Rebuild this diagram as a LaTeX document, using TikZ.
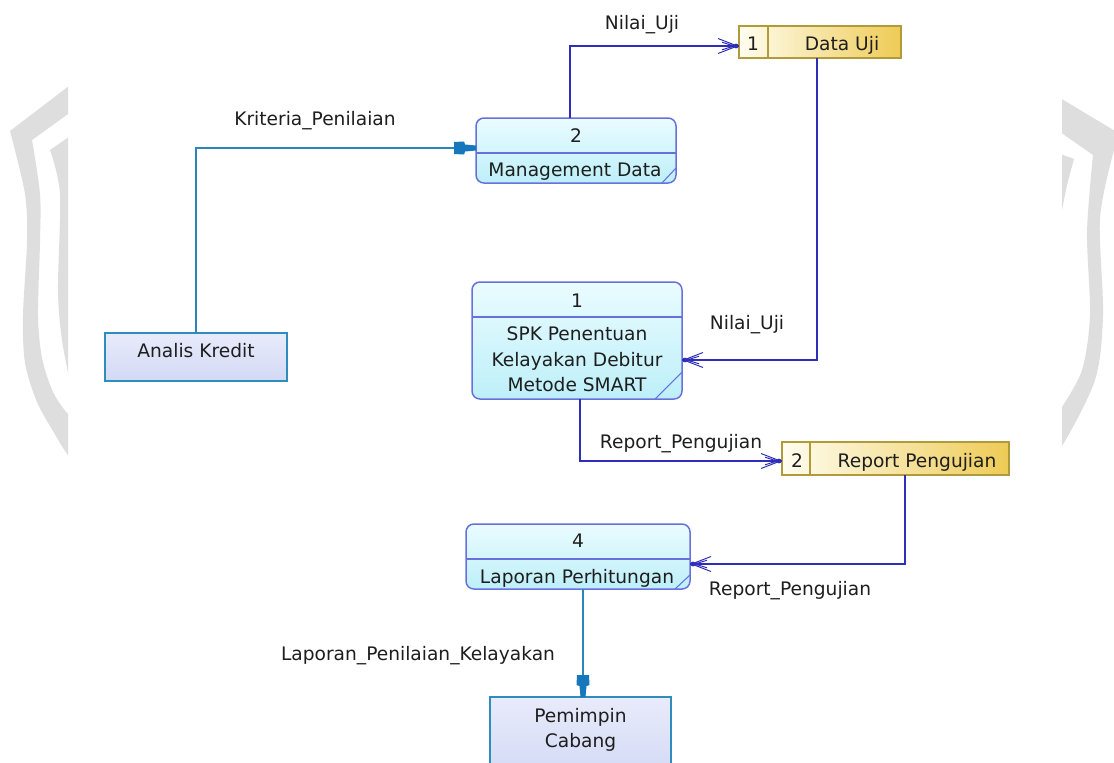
\documentclass[tikz,border=0pt]{standalone}
\usepackage{fontspec}
\setmainfont{DejaVu Sans}
\usetikzlibrary{calc}

\definecolor{flowblue}{HTML}{2E2EB8}
\definecolor{entline}{HTML}{2B86BB}
\definecolor{enttip}{HTML}{1677BD}
\definecolor{procborder}{HTML}{6870DC}
\definecolor{proctop}{HTML}{EAFCFF}
\definecolor{procbot}{HTML}{BDEFF9}
\definecolor{storeborder}{HTML}{B09A3A}
\definecolor{storeL}{HTML}{FFFDF0}
\definecolor{storeR}{HTML}{EECB55}
\definecolor{entborder}{HTML}{2F8CBC}
\definecolor{enttop}{HTML}{E8EBFB}
\definecolor{entbot}{HTML}{D2D9F4}
\definecolor{wmgray}{HTML}{DEDEDE}
\definecolor{txt}{HTML}{1E1E1E}

\newcommand\pxu{0.02cm}

\tikzset{
  procbox/.style={draw=procborder, line width=0.85pt, rounded corners=4.5pt,
    top color=proctop, bottom color=procbot, outer sep=0pt, inner sep=0pt},
  storebox/.style={draw=storeborder, line width=0.9pt,
    left color=storeL, right color=storeR, outer sep=0pt, inner sep=0pt},
  entbox/.style={draw=entborder, line width=1.1pt,
    top color=enttop, bottom color=entbot, outer sep=0pt, inner sep=0pt},
  txtnode/.style={text=txt, inner sep=0pt, anchor=base},
  dataflow/.style={draw=flowblue, line width=1.1pt},
  entflow/.style={draw=entline, line width=1.1pt},
  flowhead/.pic={
    \fill[flowblue] (-3,0) circle (2.4);
    \draw[flowblue, line width=0.55pt] (-5,-1.3) -- (-21,-7.5) (-5,1.3) -- (-21,7.5)
      (-7,-0.6) -- (-17,-3.8) (-7,0.6) -- (-17,3.8);
  },
  entityhead/.pic={
    \fill[enttip] (0,-2.5) -- (-11,-3.5) -- (-12,-6.5) -- (-22,-6) -- (-22,6)
      -- (-12,6.5) -- (-11,3.5) -- (0,2.5) -- cycle;
  }
}

\begin{document}
\begin{tikzpicture}[x=0.02cm, y=-0.02cm, font=\fontsize{10.6}{12.8}\selectfont]
\useasboundingbox (0,0) rectangle (1114,762);
\clip (0,0) rectangle (1114,762);
\fill[white] (0,0) rectangle (1114,762);

% emblem strokes in the side margins
\begin{scope}
  \clip (0,0) rectangle (68,762);
  \fill[wmgray] (82,76) -- (10,131)
    -- plot[smooth] coordinates {(10,131) (25,194) (27,242) (23,315) (25,363) (37,402) (53,431) (68,455) (82,466)}
    -- (82,422)
    -- plot[smooth] coordinates {(82,422) (68,414) (53,392) (42,358) (38,315) (40,242) (40,194) (32,140)}
    -- (82,104) -- cycle;
  \fill[wmgray] (82,128) -- (50,150)
    -- plot[smooth] coordinates {(50,150) (60,194) (58,290) (62,340) (72,392)}
    -- (82,392) -- cycle;
\end{scope}
\begin{scope}
  \clip (1062,0) rectangle (1114,762);
  \fill[wmgray] (1050,92) -- (1120,134) -- (1120,146)
    -- plot[smooth] coordinates {(1114,150) (1100,218) (1103,315) (1095,380) (1062,446) (1050,452)}
    -- (1050,410)
    -- plot[smooth] coordinates {(1062,407) (1082,370) (1090,315) (1087,232) (1093,155)}
    -- (1050,125) -- cycle;
  \fill[wmgray] (1050,150) -- (1074,159)
    -- plot[smooth] coordinates {(1074,159) (1067,185) (1062,210)} -- (1050,214) -- cycle;
\end{scope}

% external entities
\node[entbox, minimum width=182*\pxu, minimum height=48*\pxu] (ak) at (196,357) {};
\node[txtnode] (akt) at (196,357) {Analis Kredit};
\node[entbox, minimum width=181*\pxu, minimum height=83*\pxu] (pc) at (580.5,738.5) {};
\node[txtnode] (pct1) at (580.5,722) {Pemimpin};
\node[txtnode] (pct2) at (580.5,747) {Cabang};

% processes
\node[procbox, minimum width=200*\pxu, minimum height=65*\pxu] (p2) at (576,150.5) {};
\draw[procborder, line width=0.85pt] ($(p2.north west)+(0,35)$) -- ($(p2.north east)+(0,35)$);
\draw[procborder, line width=0.6pt] ($(p2.south east)+(-14,0)$) -- ($(p2.south east)+(0,-15)$);
\node[txtnode] (p2n) at (576,142) {2};
\node[txtnode] (p2t) at (575,176) {Management Data};

\node[procbox, minimum width=210*\pxu, minimum height=117*\pxu] (p1) at (577,340.5) {};
\draw[procborder, line width=0.85pt] ($(p1.north west)+(0,35)$) -- ($(p1.north east)+(0,35)$);
\draw[procborder, line width=0.6pt] ($(p1.south east)+(-27,0)$) -- ($(p1.south east)+(0,-27)$);
\node[txtnode] (p1n) at (577,307) {1};
\node[txtnode] (p1t1) at (577,340) {SPK Penentuan};
\node[txtnode] (p1t2) at (577,366) {Kelayakan Debitur};
\node[txtnode] (p1t3) at (577,391) {Metode SMART};

\node[procbox, minimum width=224*\pxu, minimum height=65*\pxu] (p4) at (578,556.5) {};
\draw[procborder, line width=0.85pt] ($(p4.north west)+(0,35)$) -- ($(p4.north east)+(0,35)$);
\draw[procborder, line width=0.6pt] ($(p4.south east)+(-15,0)$) -- ($(p4.south east)+(0,-14)$);
\node[txtnode] (p4n) at (578,547) {4};
\node[txtnode] (p4t) at (577,583) {Laporan Perhitungan};

% data stores
\node[storebox, minimum width=162*\pxu, minimum height=32*\pxu] (du) at (820,42) {};
\draw[storeborder, line width=0.9pt] ($(du.north west)+(29,0)$) -- ($(du.south west)+(29,0)$);
\node[txtnode] (dun) at (753,50) {1};
\node[txtnode] (dut) at (842,50) {Data Uji};

\node[storebox, minimum width=227*\pxu, minimum height=33*\pxu] (rp) at (895.5,458.5) {};
\draw[storeborder, line width=0.9pt] ($(rp.north west)+(28,0)$) -- ($(rp.south west)+(28,0)$);
\node[txtnode] (rpn) at (797,467) {2};
\node[txtnode] (rpt) at (917,467) {Report Pengujian};

% flows
\draw[entflow] (ak.north) |- ($(p2.west)+(0,-2.5)$);
\pic at ($(p2.west)+(0,-2.5)$) {entityhead};
\node[txtnode] (lk) at (315,125) {Kriteria\_Penilaian};

\draw[dataflow] ($(p2.north)+(-6,0)$) |- ($(du.west)+(0,4)$);
\pic at ($(du.west)+(0,4)$) {flowhead};
\node[txtnode] (ln1) at (642,29) {Nilai\_Uji};

\draw[dataflow] ($(du.south)+(-3,0)$) |- ($(p1.east)+(0,19.5)$);
\pic[rotate=180] at ($(p1.east)+(0,19.5)$) {flowhead};
\node[txtnode] (ln2) at (747,329) {Nilai\_Uji};

\draw[dataflow] ($(p1.south)+(3,0)$) |- ($(rp.west)+(0,2.5)$);
\pic at ($(rp.west)+(0,2.5)$) {flowhead};
\node[txtnode] (lr1) at (681,448) {Report\_Pengujian};

\draw[dataflow] ($(rp.south)+(9.5,0)$) |- ($(p4.east)+(0,7.5)$);
\pic[rotate=180] at ($(p4.east)+(0,7.5)$) {flowhead};
\node[txtnode] (lr2) at (790,595) {Report\_Pengujian};

\draw[entflow] ($(p4.south)+(5,0)$) -- ($(pc.north)+(2.5,0)$);
\pic[rotate=-90] at ($(pc.north)+(2.5,0)$) {entityhead};
\node[txtnode] (ll) at (418,660) {Laporan\_Penilaian\_Kelayakan};
\end{tikzpicture}
\end{document}
